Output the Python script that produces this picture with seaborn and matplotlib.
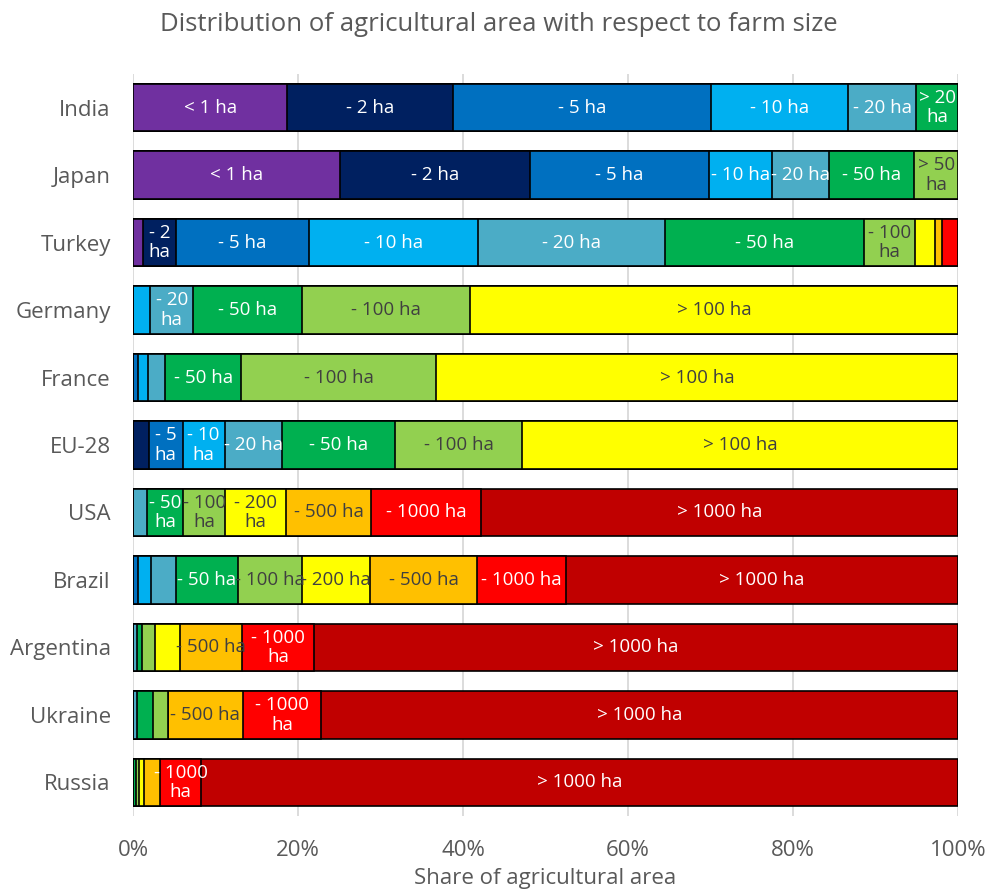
import matplotlib
matplotlib.use("Agg")
import matplotlib.pyplot as plt
import pandas as pd
import seaborn as sns

countries = ["India", "Japan", "Turkey", "Germany", "France", "EU-28",
             "USA", "Brazil", "Argentina", "Ukraine", "Russia"]
size_classes = ["< 1", "- 2", "- 5", "- 10", "- 20", "- 50",
                "- 100", "- 200", "- 500", "- 1000", "> 1000"]
class_colors = ["#7030A0", "#002060", "#0070C0", "#00B0F0", "#4BACC6", "#00B050",
                "#92D050", "#FFFF00", "#FFC000", "#FF0000", "#C00000"]
dark_text = ["- 100", "- 200", "- 500"]

# share of agricultural area (%) per size class
india = [18.7, 20.1, 31.3, 16.6, 8.2, 5.1, 0, 0, 0, 0, 0]
japan = [25.1, 23.0, 21.7, 7.6, 6.9, 10.4, 5.3, 0, 0, 0, 0]
turkey = [1.2, 4.0, 16.1, 20.5, 22.7, 24.1, 6.2, 2.4, 0.9, 1.9, 0]
germany = [0, 0, 0, 2.1, 5.2, 13.2, 20.4, 59.1, 0, 0, 0]
france = [0, 0, 0.6, 1.2, 2.1, 9.2, 23.6, 63.3, 0, 0, 0]
eu28 = [0, 1.9, 4.1, 5.1, 7.0, 13.6, 15.5, 52.8, 0, 0, 0]
usa = [0, 0, 0, 0, 1.7, 4.4, 5.1, 7.3, 10.4, 13.3, 57.8]
brazil = [0, 0, 0.6, 1.6, 3.0, 7.5, 7.8, 8.2, 13.0, 10.8, 47.5]
argentina = [0, 0, 0, 0, 0.5, 0.6, 1.6, 3.0, 7.5, 8.7, 78.1]
ukraine = [0, 0, 0, 0, 0.5, 1.9, 1.8, 0, 9.1, 9.5, 77.2]
russia = [0, 0, 0, 0, 0, 0.3, 0.4, 0.6, 2.0, 4.9, 91.8]

# segment labels ("" = no label), same slots as size_classes
india_lab = ["< 1 ha", "- 2 ha", "- 5 ha", "- 10 ha", "- 20 ha", "> 20\nha", "", "", "", "", ""]
japan_lab = ["< 1 ha", "- 2 ha", "- 5 ha", "- 10 ha", "- 20 ha", "- 50 ha", "> 50\nha", "", "", "", ""]
turkey_lab = ["", "- 2\nha", "- 5 ha", "- 10 ha", "- 20 ha", "- 50 ha", "- 100\nha", "", "", "", ""]
germany_lab = ["", "", "", "", "- 20\nha", "- 50 ha", "- 100 ha", "> 100 ha", "", "", ""]
france_lab = ["", "", "", "", "", "- 50 ha", "- 100 ha", "> 100 ha", "", "", ""]
eu28_lab = ["", "", "- 5\nha", "- 10\nha", "- 20 ha", "- 50 ha", "- 100 ha", "> 100 ha", "", "", ""]
usa_lab = ["", "", "", "", "", "- 50\nha", "- 100\nha", "- 200\nha", "- 500 ha", "- 1000 ha", "> 1000 ha"]
brazil_lab = ["", "", "", "", "", "- 50 ha", "- 100 ha", "- 200 ha", "- 500 ha", "- 1000 ha", "> 1000 ha"]
argentina_lab = ["", "", "", "", "", "", "", "", "- 500 ha", "- 1000\nha", "> 1000 ha"]
ukraine_lab = ["", "", "", "", "", "", "", "", "- 500 ha", "- 1000\nha", "> 1000 ha"]
russia_lab = ["", "", "", "", "", "", "", "", "", "- 1000\nha", "> 1000 ha"]

shares = pd.DataFrame([india, japan, turkey, germany, france, eu28, usa,
                       brazil, argentina, ukraine, russia],
                      index=countries, columns=size_classes)
labels = pd.DataFrame([india_lab, japan_lab, turkey_lab, germany_lab, france_lab,
                       eu28_lab, usa_lab, brazil_lab, argentina_lab, ukraine_lab,
                       russia_lab],
                      index=countries, columns=size_classes)

sns.set_theme(style="whitegrid")
plt.rcParams["font.family"] = ["Open Sans", "DejaVu Sans"]
grey = "#595959"

fig = plt.figure(figsize=(9.98, 8.90), dpi=100)
ax = fig.add_axes([0.1333, 0.0829, 0.8267, 0.8342])

# stacked bars: draw cumulative totals from the right-most class down
cum = shares.cumsum(axis=1)
for i in reversed(range(len(size_classes))):
    layer = pd.DataFrame({"country": countries, "cum": cum[size_classes[i]].values})
    sns.barplot(data=layer, x="cum", y="country", orient="h", order=countries,
                color=class_colors[i], saturation=1, edgecolor="black",
                linewidth=1.2, width=0.7, errorbar=None, ax=ax)

for r, country in enumerate(countries):
    for i, cls in enumerate(size_classes):
        text = labels.loc[country, cls]
        if not text:
            continue
        v = shares.loc[country, cls]
        x = cum.loc[country, cls] - v / 2
        ax.text(x, r, text, ha="center", va="center", fontsize=13.5,
                linespacing=1.12,
                color="#404040" if cls in dark_text else "white")

ax.set_xlim(0, 100)
ax.set_ylim(10.5, -0.5)
ax.set_xticks(range(0, 101, 20))
ax.set_xticklabels([f"{t}%" for t in range(0, 101, 20)])
ax.grid(axis="x", color="#D9D9D9", linewidth=1.3)
ax.grid(axis="y", visible=False)
for s in ax.spines.values():
    s.set_visible(False)
ax.tick_params(axis="both", length=0, labelsize=16, labelcolor=grey)
ax.tick_params(axis="y", pad=16)
ax.tick_params(axis="x", pad=17)
ax.set_ylabel("")
ax.set_xlabel("Share of agricultural area", fontsize=16, color=grey, labelpad=5)
fig.suptitle("Distribution of agricultural area with respect to farm size",
             fontsize=18.5, color=grey, y=0.986)

fig.savefig("out.png", dpi=100, facecolor="white")
